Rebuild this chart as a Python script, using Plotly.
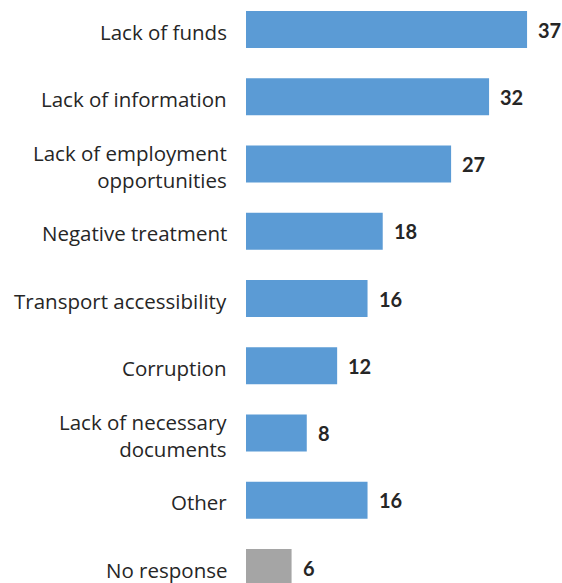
import plotly.graph_objects as go

# Reasons reported, top to bottom
categories = [
    "Lack of funds",
    "Lack of information",
    "Lack of employment<br>opportunities",
    "Negative treatment",
    "Transport accessibility",
    "Corruption",
    "Lack of necessary<br>documents",
    "Other",
    "No response",
]
values = [37, 32, 27, 18, 16, 12, 8, 16, 6]
bar_colors = ["#5B9BD5"] * 8 + ["#A5A5A5"]

LABEL_FONT = "Open Sans, Lato, sans-serif"
VALUE_FONT = "Lato, Open Sans, sans-serif"
TEXT_COLOR = "#262626"

fig = go.Figure(
    go.Bar(
        x=values,
        y=categories,
        orientation="h",
        marker=dict(color=bar_colors, line=dict(width=0)),
        width=0.55,
        hoverinfo="skip",
    )
)

for cat, val in zip(categories, values):
    # Category name, right-aligned to the left of the bar
    fig.add_annotation(
        x=0, xref="x", y=cat, text=cat, showarrow=False,
        xanchor="right", yanchor="middle", align="right",
        xshift=-18, yshift=-2, borderpad=0,
        font=dict(family=LABEL_FONT, size=20.5, color=TEXT_COLOR),
    )
    # Value label just past the end of the bar
    fig.add_annotation(
        x=val, y=cat, text=f"<b>{val}</b>", showarrow=False,
        xanchor="left", yanchor="middle", xshift=9,
        font=dict(family=VALUE_FONT, size=20, color=TEXT_COLOR),
    )

fig.update_layout(
    width=562, height=583,
    margin=dict(l=246, r=0, t=0, b=0),
    paper_bgcolor="white", plot_bgcolor="white",
    showlegend=False,
    font=dict(family=LABEL_FONT, size=20.5, color=TEXT_COLOR),
)
fig.update_xaxes(range=[0, 41.6], visible=False)
fig.update_yaxes(
    range=[8.23, -0.4387],
    showgrid=False, showline=False, zeroline=False,
    showticklabels=False,
)

fig.write_html("out.html")
